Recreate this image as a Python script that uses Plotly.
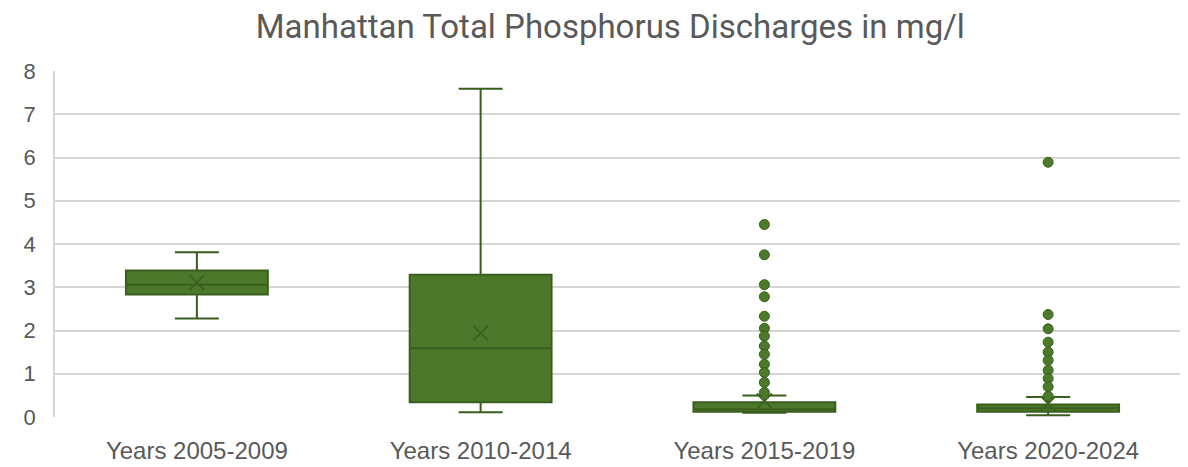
import plotly.graph_objects as go

categories = ["Years 2005-2009", "Years 2010-2014", "Years 2015-2019", "Years 2020-2024"]
lower_fence = [2.28, 0.11, 0.10, 0.04]
q1 = [2.83, 0.34, 0.12, 0.12]
median = [3.06, 1.59, 0.18, 0.20]
q3 = [3.39, 3.29, 0.34, 0.29]
upper_fence = [3.81, 7.59, 0.50, 0.46]
mean = [3.11, 1.94, 0.37, 0.31]

outliers = {
    "Years 2005-2009": [],
    "Years 2010-2014": [],
    "Years 2015-2019": [4.45, 3.75, 3.06, 2.78, 2.33, 2.05, 1.87, 1.64, 1.45, 1.22, 1.03, 0.80, 0.57],
    "Years 2020-2024": [5.89, 2.37, 2.04, 1.73, 1.50, 1.31, 1.08, 0.89, 0.70, 0.48],
}

y_ticks = [0, 1, 2, 3, 4, 5, 6, 7, 8]

FILL = "rgb(76,120,43)"
LINE = "rgb(58,94,30)"
GREY = "#595959"

fig = go.Figure()
fig.add_trace(go.Box(
    x=categories, q1=q1, median=median, q3=q3,
    lowerfence=lower_fence, upperfence=upper_fence,
    fillcolor=FILL, line=dict(color=LINE, width=2),
    width=0.5, whiskerwidth=0.31, boxpoints=False, hoverinfo="skip",
    showlegend=False,
))

ox, oy = [], []
for c in categories:
    for v in outliers[c]:
        ox.append(c)
        oy.append(v)
fig.add_trace(go.Scatter(
    x=ox, y=oy, mode="markers",
    marker=dict(size=10, color="rgb(74,122,42)", line=dict(color=LINE, width=1)),
    showlegend=False,
))
fig.add_trace(go.Scatter(
    x=categories, y=mean, mode="markers",
    marker=dict(symbol="x-thin", size=15, line=dict(color="rgb(60,98,33)", width=2)),
    showlegend=False,
))

fig.update_layout(
    width=1188, height=467,
    margin=dict(l=47, r=6, t=63, b=58, autoexpand=False),
    paper_bgcolor="white", plot_bgcolor="white",
    title=dict(text="Manhattan Total Phosphorus Discharges in mg/l",
               font=dict(family="Roboto", size=33, color=GREY),
               x=0.507, xanchor="center", y=0.985, yanchor="top"),
    xaxis=dict(type="category", categoryorder="array", categoryarray=categories,
               range=[-0.5, 3.5], showgrid=False, zeroline=False, showline=False,
               automargin=False,
               ticks="", tickfont=dict(family="Liberation Sans", size=24, color=GREY),
               ticklabelstandoff=17),
    yaxis=dict(range=[0, 8], tickvals=y_ticks, showgrid=True, gridcolor="#d6d6d6",
               gridwidth=1.6, zeroline=False, showline=True, linecolor="#d6d6d6",
               automargin=False,
               linewidth=1.6, ticks="", tickfont=dict(family="Liberation Sans", size=22, color=GREY),
               ticklabelstandoff=13),
)

fig.write_html("out.html")
